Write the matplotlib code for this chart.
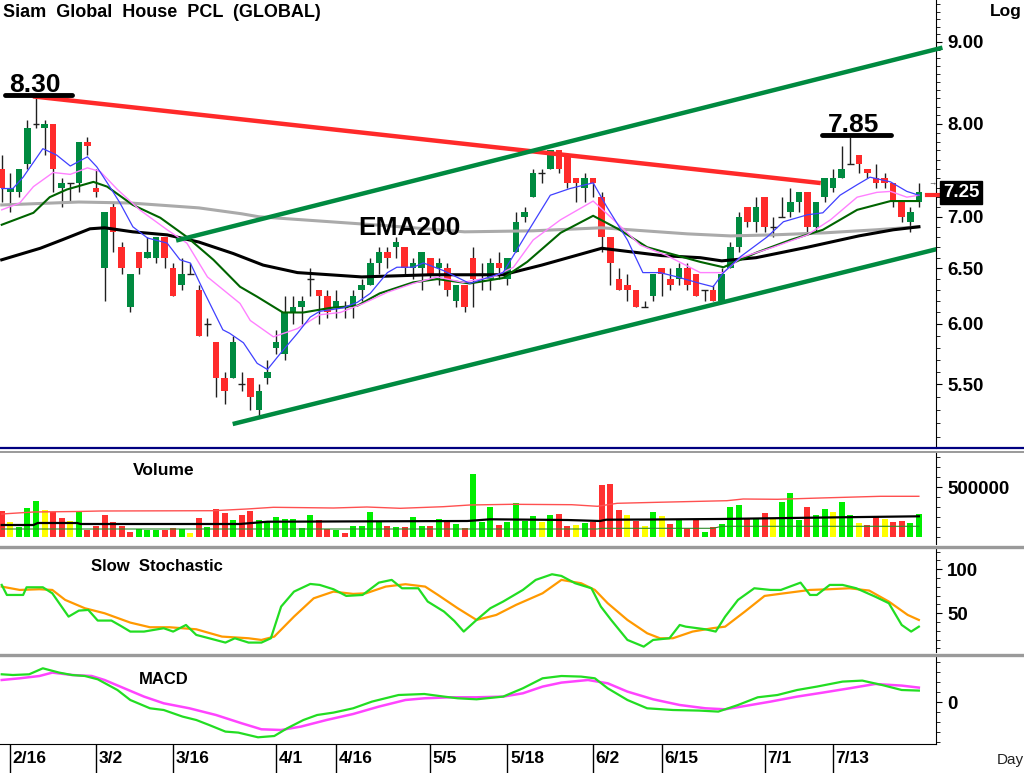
import numpy as np
import matplotlib
matplotlib.use('Agg')
import matplotlib.pyplot as plt
import matplotlib.transforms as mtransforms
from matplotlib.lines import Line2D
from matplotlib.ticker import FixedLocator, NullFormatter, NullLocator

plt.rcParams['font.family'] = ['Liberation Sans', 'DejaVu Sans']

# daily candles (THB)
opens = [7.50, 7.25, 7.25, 7.55, 8.00, 7.95, 8.00, 7.30, 7.35, 7.35, 7.80, 7.30, 6.50, 7.10, 6.70, 6.15, 6.65, 6.60, 6.60, 6.80,
         6.50, 6.35, 6.45, 6.30, 6.00, 5.85, 5.55, 5.55, 5.50, 5.55, 5.30, 5.55, 5.80, 5.75, 6.10, 6.15, 6.40, 6.30, 6.25, 6.15,
         6.15, 6.15, 6.30, 6.35, 6.55, 6.65, 6.70, 6.70, 6.50, 6.50, 6.60, 6.50, 6.50, 6.20, 6.35, 6.60, 6.45, 6.40, 6.55, 6.40,
         6.65, 7.00, 7.20, 7.45, 7.50, 7.70, 7.65, 7.40, 7.30, 7.40, 7.20, 6.80, 6.40, 6.35, 6.30, 6.15, 6.25, 6.50, 6.40, 6.40,
         6.50, 6.45, 6.30, 6.30, 6.20, 6.50, 6.70, 7.10, 6.95, 7.20, 6.90, 7.00, 7.05, 7.15, 7.25, 6.90, 7.20, 7.30, 7.40, 7.55,
         7.65, 7.50, 7.40, 7.40, 7.35, 7.15, 6.95, 7.15]
highs = [7.65, 7.45, 7.50, 8.05, 8.30, 8.05, 8.00, 7.40, 7.35, 7.80, 7.85, 7.50, 7.05, 7.15, 6.75, 6.45, 6.65, 6.80, 6.80, 6.80,
         6.55, 6.60, 6.55, 6.35, 6.05, 5.85, 5.60, 5.90, 5.60, 5.55, 5.50, 5.70, 5.95, 6.25, 6.25, 6.25, 6.50, 6.30, 6.30, 6.30,
         6.20, 6.30, 6.40, 6.60, 6.70, 6.70, 6.80, 6.70, 6.60, 6.65, 6.60, 6.60, 6.55, 6.35, 6.35, 6.70, 6.55, 6.60, 6.65, 6.60,
         7.05, 7.10, 7.50, 7.50, 7.70, 7.70, 7.65, 7.40, 7.45, 7.40, 7.25, 6.80, 6.50, 6.45, 6.30, 6.20, 6.45, 6.50, 6.50, 6.55,
         6.55, 6.45, 6.30, 6.35, 6.50, 6.75, 7.05, 7.10, 7.20, 7.20, 7.00, 7.20, 7.30, 7.25, 7.25, 7.15, 7.40, 7.50, 7.75, 7.85,
         7.65, 7.50, 7.55, 7.45, 7.35, 7.15, 7.10, 7.35]
lows = [7.15, 7.05, 7.20, 7.50, 7.95, 7.65, 7.25, 7.10, 7.15, 7.25, 7.65, 7.20, 6.20, 6.65, 6.45, 6.10, 6.45, 6.60, 6.55, 6.50,
        6.25, 6.30, 6.45, 5.90, 5.90, 5.40, 5.35, 5.55, 5.45, 5.30, 5.25, 5.50, 5.75, 5.70, 6.00, 6.00, 6.25, 6.00, 6.05, 6.05,
        6.05, 6.05, 6.20, 6.35, 6.45, 6.50, 6.60, 6.45, 6.40, 6.30, 6.40, 6.35, 6.25, 6.15, 6.10, 6.15, 6.30, 6.30, 6.40, 6.35,
        6.65, 6.95, 7.20, 7.35, 7.50, 7.45, 7.30, 7.15, 7.15, 7.20, 6.65, 6.35, 6.30, 6.20, 6.15, 6.15, 6.20, 6.25, 6.30, 6.35,
        6.30, 6.25, 6.20, 6.20, 6.20, 6.50, 6.65, 6.90, 6.85, 6.85, 6.80, 7.00, 7.00, 7.05, 6.85, 6.85, 7.15, 7.25, 7.40, 7.55,
        7.45, 7.40, 7.30, 7.30, 7.10, 6.95, 6.85, 7.10]
closes = [7.30, 7.30, 7.50, 7.95, 8.00, 8.00, 7.50, 7.35, 7.35, 7.80, 7.75, 7.25, 7.05, 6.85, 6.50, 6.45, 6.50, 6.65, 6.80, 6.60,
          6.25, 6.45, 6.45, 5.90, 6.00, 5.55, 5.45, 5.85, 5.50, 5.40, 5.45, 5.60, 5.85, 6.10, 6.15, 6.20, 6.40, 6.25, 6.10, 6.20,
          6.15, 6.25, 6.35, 6.55, 6.65, 6.60, 6.75, 6.50, 6.55, 6.65, 6.45, 6.55, 6.30, 6.35, 6.15, 6.40, 6.45, 6.55, 6.50, 6.60,
          6.95, 7.05, 7.45, 7.45, 7.70, 7.50, 7.35, 7.35, 7.40, 7.35, 6.80, 6.55, 6.30, 6.30, 6.15, 6.15, 6.45, 6.45, 6.35, 6.50,
          6.35, 6.25, 6.30, 6.20, 6.45, 6.70, 7.00, 6.95, 7.10, 6.90, 6.90, 7.00, 7.15, 7.25, 6.90, 7.15, 7.40, 7.40, 7.50, 7.55,
          7.55, 7.45, 7.35, 7.35, 7.15, 7.00, 7.05, 7.25]
prev_close = 7.35
volumes = [257000, 147000, 97000, 290000, 363000, 270000, 253000, 190000, 163000, 247000, 70000, 113000, 220000, 147000,
           107000, 47000, 80000, 70000, 70000, 73000, 90000, 80000, 37000, 187000, 103000, 280000, 237000, 173000, 223000,
           263000, 173000, 163000, 203000, 180000, 180000, 87000, 220000, 173000, 80000, 70000, 37000, 107000, 107000, 247000,
           147000, 107000, 97000, 97000, 203000, 107000, 113000, 180000, 147000, 130000, 87000, 630000, 147000, 303000, 120000,
           150000, 340000, 163000, 207000, 147000, 220000, 227000, 107000, 123000, 143000, 153000, 520000, 530000, 270000,
           220000, 163000, 113000, 253000, 207000, 130000, 170000, 87000, 173000, 47000, 97000, 130000, 297000, 320000, 180000,
           180000, 237000, 180000, 347000, 440000, 173000, 303000, 220000, 280000, 247000, 347000, 223000, 140000, 120000,
           207000, 180000, 153000, 163000, 140000, 230000]

# moving averages (bar index, price)
fast_x = [0, 1.3, 2.5, 4.8, 6.4, 8, 10, 11.1, 12.6, 13.8, 15.3, 17, 19.3, 20.8, 22, 23.5, 25.8, 26.6, 28.2, 29.8,
          31, 32.5, 34.5, 36, 37.1, 39.8, 41.5, 43, 45, 46.1, 48, 49.2, 51.5, 54.6, 55.8, 58.5, 61.3, 64, 66.3, 69,
          70.6, 73, 74.8, 76.8, 78.8, 81.5, 83, 84.2, 86.2, 89.3, 91.2, 94, 95.8, 97.8, 99.8, 101.3, 103.7, 105.6, 107]
fast_y = [7.29, 7.29, 7.41, 7.72, 7.65, 7.53, 7.63, 7.52, 7.31, 7.14, 6.90, 6.79, 6.74, 6.58, 6.55, 6.30, 5.95, 5.92, 5.84, 5.67,
          5.62, 5.75, 5.92, 6.06, 6.11, 6.14, 6.19, 6.27, 6.46, 6.51, 6.51, 6.55, 6.48, 6.36, 6.39, 6.46, 6.84, 7.22, 7.29, 7.35,
          7.10, 6.77, 6.46, 6.46, 6.42, 6.36, 6.33, 6.46, 6.61, 6.80, 6.95, 7.02, 7.04, 7.22, 7.33, 7.41, 7.36, 7.26, 7.22]
mid_x = [0, 2.1, 3.7, 6, 8, 10, 11.5, 13.5, 16.1, 19.3, 21.6, 24, 27.8, 29, 31.7, 34.5, 37.1, 39.5, 42.2, 45, 48,
         50.8, 53.8, 57.3, 59.7, 62, 65.2, 69, 71, 74.5, 77.6, 81.5, 84.2, 86.2, 90, 94, 96.7, 99.8, 102.1, 103.7, 105.6, 107]
mid_y = [7.07, 7.14, 7.31, 7.46, 7.44, 7.51, 7.47, 7.28, 7.07, 6.87, 6.74, 6.42, 6.18, 6.03, 5.89, 5.96, 6.08, 6.10, 6.18, 6.28,
         6.36, 6.42, 6.37, 6.42, 6.51, 6.77, 6.97, 7.16, 7.00, 6.72, 6.62, 6.46, 6.46, 6.60, 6.70, 6.82, 6.97, 7.20, 7.25, 7.26,
         7.20, 7.22]
slow_x = [0, 3.7, 5.6, 7.6, 10.7, 12.3, 15.3, 18.5, 21.6, 24.7, 27.8, 29.8, 32.8, 35.2, 38.3, 41.5, 44.1, 48, 50.8,
          54.6, 58.5, 61.3, 65.2, 69, 72.1, 75.3, 81.5, 84.2, 88.1, 92, 95.8, 99.8, 103.7, 107]
slow_y = [6.92, 7.04, 7.20, 7.28, 7.36, 7.31, 7.12, 6.99, 6.80, 6.58, 6.33, 6.24, 6.10, 6.10, 6.14, 6.16, 6.27, 6.37, 6.40,
          6.36, 6.41, 6.56, 6.84, 7.01, 6.87, 6.70, 6.56, 6.51, 6.65, 6.77, 6.87, 7.07, 7.16, 7.16]
ema75_x = [0, 4.5, 7, 10.3, 12, 15.3, 19.3, 23, 27, 30.5, 34.5, 42, 46, 50, 54, 58.5, 63, 70, 74, 77, 81.5, 84, 88,
           94, 100, 104, 107]
ema75_y = [6.58, 6.69, 6.77, 6.88, 6.89, 6.85, 6.82, 6.75, 6.64, 6.53, 6.46, 6.42, 6.43, 6.44, 6.44, 6.44, 6.53, 6.69, 6.65,
           6.62, 6.60, 6.57, 6.60, 6.70, 6.81, 6.87, 6.90]
ema200_x = [0, 9, 15, 23, 28, 30, 35, 45, 54, 62, 70, 80, 85, 90, 96, 102, 107]
ema200_y = [7.12, 7.15, 7.14, 7.09, 7.03, 7.00, 6.97, 6.91, 6.85, 6.86, 6.89, 6.83, 6.81, 6.82, 6.84, 6.87, 6.90]

# trend lines
resist_x, resist_y = [3.9, 95.3], [8.32, 7.35]
resist_last = 7.22
chan_up_x, chan_up_y = [20.6, 109.5], [6.77, 8.92]
chan_lo_x, chan_lo_y = [27.2, 109.0], [5.20, 6.68]

# volume averages
vavg_hi_x = [0, 3.7, 8.8, 11.5, 24.7, 28.6, 31.7, 38.7, 42.6, 46.5, 51.5, 54.6, 59.5, 66.5, 69.5, 71.8, 76.5, 84.6,
             86.5, 90.5, 95.5, 102.5, 107]
vavg_hi_y = [230000, 250000, 255000, 260000, 263000, 280000, 297000, 290000, 300000, 287000, 303000, 320000, 327000,
             323000, 307000, 337000, 347000, 363000, 380000, 377000, 390000, 407000, 407000]
vavg_x = [0, 3.7, 4.2, 8.8, 9.2, 27.8, 31, 54.3, 57, 66, 69.8, 70.5, 76, 83.8, 92, 97.8, 107]
vavg_y = [120000, 120000, 140000, 140000, 130000, 130000, 153000, 160000, 177000, 170000, 160000, 173000, 175000,
          180000, 190000, 197000, 207000]
vavg_lo_x = [0, 69.5, 70, 83, 84, 107]
vavg_lo_y = [80000, 80000, 87000, 87000, 107000, 107000]

# slow stochastic
stk_x = [0, 0.6, 2.5, 2.9, 4.8, 5.9, 7.8, 9.0, 10.1, 11.2, 12.8, 13.9, 15.0, 16.6, 18.9, 20.0, 21.5, 22.7, 24.2, 26.1,
         27.2, 28.8, 30.3, 31.4, 32.6, 34.1, 36.0, 37.1, 38.7, 40.2, 42.1, 44.0, 45.5, 46.7, 48.6, 49.7, 51.6, 52.8, 53.9,
         55.4, 57.0, 58.5, 60.8, 62.3, 64.2, 65.3, 66.9, 68.8, 69.9, 71.1, 73.0, 74.9, 76.0, 77.9, 79.1, 79.8, 82.1, 83.3,
         84.4, 85.9, 87.8, 89.7, 90.9, 93.2, 94.3, 95.1, 96.6, 98.1, 99.7, 101.9, 103.5, 105.0, 106.1, 107.0]
stk_y = [82.2, 70.8, 70.8, 79.5, 79.5, 72.7, 46.2, 53.0, 53.8, 41.7, 41.7, 35.6, 29.2, 29.2, 33.0, 29.2, 36.7, 25.4, 21.6,
         16.7, 21.6, 16.7, 16.7, 21.6, 57.6, 74.6, 83.3, 82.2, 77.3, 69.7, 70.8, 84.8, 87.9, 78.4, 78.4, 63.3, 51.9, 41.3,
         29.2, 42.4, 55.7, 63.3, 76.5, 87.9, 94.3, 92.4, 84.1, 78.4, 57.6, 42.4, 19.7, 12.1, 19.7, 21.6, 36.7, 34.8, 31.8,
         29.2, 46.2, 65.2, 78.4, 76.5, 76.5, 84.8, 70.8, 70.8, 82.2, 82.2, 78.4, 68.9, 61.4, 36.7, 29.2, 34.8]
std_x = [0, 2.1, 4.4, 5.9, 7.4, 9.7, 12.0, 15.0, 17.3, 19.6, 22.7, 25.7, 28.8, 30.3, 31.8, 34.1, 36.4, 38.7, 41.0, 42.5,
         44.8, 47.1, 49.4, 50.9, 53.2, 55.4, 57.7, 60.0, 63.1, 65.3, 67.6, 69.2, 70.7, 73.0, 75.3, 76.8, 78.3, 80.6, 82.9,
         84.4, 86.7, 89.0, 91.3, 94.3, 96.6, 98.9, 101.2, 103.5, 105.7, 107.0]
std_y = [80.3, 76.5, 77.3, 76.5, 65.2, 55.7, 50.0, 39.4, 34.1, 34.1, 31.8, 23.5, 21.6, 19.7, 23.5, 46.2, 67.0, 74.6, 72.0,
         72.7, 80.3, 83.0, 80.3, 70.8, 55.7, 42.4, 48.1, 59.5, 72.7, 87.9, 84.1, 76.5, 61.4, 42.4, 27.3, 21.6, 21.6, 29.2,
         33.0, 34.8, 51.9, 69.7, 72.7, 76.5, 77.3, 78.4, 75.8, 63.3, 48.1, 42.4]

# MACD
macd_x = [0, 1.3, 3.2, 4.8, 6.7, 8.2, 9.7, 11.2, 13.5, 15.0, 17.3, 18.9, 21.1, 22.7, 24.2, 26.1, 27.6, 29.9, 31.8, 33.3,
          35.2, 36.8, 38.7, 41.0, 43.2, 46.3, 49.3, 51.6, 53.2, 55.4, 58.5, 60.8, 63.1, 65.3, 67.6, 69.2, 70.7, 73.0, 75.3,
          78.3, 81.4, 83.6, 85.9, 88.2, 90.5, 92.8, 95.1, 98.1, 100.4, 102.7, 105.0, 107.0]
macd_y = [0.28, 0.273, 0.28, 0.34, 0.297, 0.273, 0.263, 0.23, 0.123, 0.023, -0.06, -0.077, -0.143, -0.177, -0.227, -0.293,
          -0.303, -0.35, -0.337, -0.26, -0.177, -0.127, -0.103, -0.06, 0.007, 0.073, 0.083, 0.057, 0.04, 0.03, 0.057, 0.14,
          0.24, 0.263, 0.257, 0.24, 0.14, 0.023, -0.06, -0.077, -0.083, -0.093, -0.027, 0.05, 0.073, 0.123, 0.157, 0.207,
          0.217, 0.173, 0.123, 0.117]
sig_x = [0, 2.1, 4.4, 5.9, 8.2, 10.5, 12.0, 14.3, 16.6, 18.9, 21.9, 25.0, 28.0, 30.3, 32.6, 34.9, 37.9, 41.0, 44.0, 47.1,
         49.3, 52.4, 55.4, 58.5, 60.8, 63.1, 65.3, 68.4, 70.7, 73.0, 76.0, 79.1, 82.1, 84.4, 86.7, 89.7, 92.8, 95.8, 98.9,
         101.9, 105.0, 107.0]
sig_y = [0.223, 0.24, 0.263, 0.297, 0.273, 0.263, 0.223, 0.14, 0.057, -0.01, -0.06, -0.127, -0.21, -0.27, -0.277, -0.243,
         -0.177, -0.117, -0.043, 0.023, 0.04, 0.05, 0.05, 0.057, 0.09, 0.157, 0.197, 0.223, 0.19, 0.107, 0.03, -0.027,
         -0.06, -0.07, -0.037, 0.007, 0.057, 0.097, 0.14, 0.183, 0.167, 0.147]

date_pos = [1, 11, 20, 32, 39, 50, 59, 69, 77, 89, 97]
date_lbl = ['2/16', '3/2', '3/16', '4/1', '4/16', '5/5', '5/18', '6/2', '6/15', '7/1', '7/13']

W, H = 1024, 773
fig = plt.figure(figsize=(W / 100, H / 100), dpi=100)
fig.patch.set_facecolor('white')


def panel(top, bottom):
    a = fig.add_axes([0, 1 - bottom / H, 936 / W, (bottom - top) / H])
    a.set_xlim(-0.2, 109.0)
    for s in ('top', 'left', 'bottom'):
        a.spines[s].set_visible(False)
    a.spines['right'].set_color('black')
    a.yaxis.tick_right()
    a.tick_params(axis='y', which='major', length=4, pad=4, labelsize=13.5)
    a.tick_params(axis='y', which='minor', length=3)
    a.xaxis.set_major_locator(NullLocator())
    return a


lab = dict(fontsize=13.5, fontweight='bold')

# ---- price panel
ax = panel(0, 448)
ax.set_yscale('log')
ax.set_ylim(5.02, 9.56)
ax.yaxis.set_major_locator(FixedLocator([5.5, 6.0, 6.5, 7.0, 8.0, 9.0]))
ax.yaxis.set_minor_locator(FixedLocator(np.arange(5.1, 9.55, 0.1)))
ax.yaxis.set_minor_formatter(NullFormatter())
ax.set_yticklabels(['5.50', '6.00', '6.50', '7.00', '8.00', '9.00'], **lab)

x = np.arange(len(closes))
o, c = np.array(opens), np.array(closes)
h, l = np.array(highs), np.array(lows)
ax.vlines(x, l, h, color='#202020', lw=1, zorder=3)
up, dn, eq = c > o, c < o, c == o
ax.bar(x[up], (c - o)[up], bottom=o[up], width=0.76, color='#008a40', zorder=4)
ax.bar(x[dn], (o - c)[dn], bottom=c[dn], width=0.76, color='#ff2b2b', zorder=4)
ax.hlines(o[eq], x[eq] - 0.4, x[eq] + 0.4, color='#202020', lw=1, zorder=4)

ax.plot(ema200_x, ema200_y, color='#aaaaaa', lw=2.2, zorder=5)
ax.plot(ema75_x, ema75_y, color='black', lw=2.2, zorder=5)
ax.plot(slow_x, slow_y, color='#006400', lw=1.5, zorder=5)
ax.plot(mid_x, mid_y, color='#ff80ff', lw=1, zorder=5)
ax.plot(fast_x, fast_y, color='#4040ff', lw=0.9, zorder=5)

ax.plot(resist_x, resist_y, color='#ff2a2a', lw=3.2, zorder=6)
ax.plot(chan_up_x, chan_up_y, color='#008a40', lw=3.2, zorder=6, clip_on=False)
ax.plot(chan_lo_x, chan_lo_y, color='#008a40', lw=3.2, zorder=6)
ax.plot([107.9, 109.3], [resist_last, resist_last], color='#ff2a2a', lw=3, zorder=6, clip_on=False)

ax.plot([0.4, 8.2], [8.34, 8.34], color='black', lw=3.5, solid_capstyle='round', zorder=7)
ax.text(0.85, 8.38, '8.30', fontsize=19, fontweight='bold', va='baseline', zorder=7)
ax.plot([95.7, 103.7], [7.874, 7.874], color='black', lw=3.5, solid_capstyle='round', zorder=7)
ax.text(96.4, 7.91, '7.85', fontsize=19, fontweight='bold', va='baseline', zorder=7)
ax.text(41.6, 6.82, 'EMA200', fontsize=19, fontweight='bold', va='baseline', zorder=7)

ax.text(109.85, closes[-1], '%.2f' % closes[-1], color='white', va='center', ha='left', clip_on=False,
        bbox=dict(boxstyle='square,pad=0.15', fc='black', ec='black'), zorder=8, **lab)
ax.text(108.6, 7.34, '→', fontsize=6, color='#404040', va='center', ha='center', clip_on=False)

# ---- volume panel
axv = panel(452, 544)
axv.set_ylim(-70000, 850000)
axv.yaxis.set_major_locator(FixedLocator([500000]))
axv.yaxis.set_minor_locator(FixedLocator(np.arange(0, 850000, 100000)))
axv.yaxis.set_minor_formatter(NullFormatter())
axv.set_yticklabels(['500000'], **lab)
prev = np.concatenate([[prev_close], c[:-1]])
vcol = np.where(c > prev, '#00ee00', np.where(c < prev, '#ff3030', '#ffff00'))
axv.bar(x, volumes, width=0.7, color=vcol, zorder=3)
axv.plot(vavg_hi_x, vavg_hi_y, color='#ff5050', lw=1, zorder=4)
axv.plot(vavg_x, vavg_y, color='black', lw=1.6, zorder=4)
axv.plot(vavg_lo_x, vavg_lo_y, color='#2a8a2a', lw=0.8, zorder=4)
axv.text(0.142, 0.8, 'Volume', transform=axv.transAxes, fontsize=12.5, fontweight='bold', va='center')

# ---- stochastic panel
axs = panel(549, 652)
axs.set_ylim(6, 123)
axs.yaxis.set_major_locator(FixedLocator([50, 100]))
axs.yaxis.set_minor_locator(FixedLocator(np.arange(10, 121, 10)))
axs.yaxis.set_minor_formatter(NullFormatter())
axs.set_yticklabels(['50', '100'], **lab)
axs.plot(std_x, std_y, color='#ff9900', lw=1.6, zorder=3)
axs.plot(stk_x, stk_y, color='#22dd22', lw=1.6, zorder=4)
axs.text(0.097, 0.83, 'Slow  Stochastic', transform=axs.transAxes, fontsize=12, fontweight='bold', va='center')

# ---- MACD panel
axm = panel(657, 744)
axm.set_ylim(-0.417, 0.453)
axm.yaxis.set_major_locator(FixedLocator([0]))
axm.yaxis.set_minor_locator(FixedLocator(np.arange(-0.4, 0.45, 0.1)))
axm.yaxis.set_minor_formatter(NullFormatter())
axm.set_yticklabels(['0'], **lab)
axm.spines['bottom'].set_visible(True)
axm.spines['bottom'].set_color('black')
axm.plot(sig_x, sig_y, color='#ff44ff', lw=1.8, zorder=3)
axm.plot(macd_x, macd_y, color='#22dd22', lw=1.6, zorder=4)
axm.text(0.148, 0.74, 'MACD', transform=axm.transAxes, fontsize=12, fontweight='bold', va='center')

axm.xaxis.set_major_locator(FixedLocator(date_pos))
axm.xaxis.set_major_formatter(NullFormatter())
axm.tick_params(axis='x', which='major', direction='out', length=21, width=1, color='black')
tr = mtransforms.blended_transform_factory(axm.transData, axm.transAxes)
for p, s in zip(date_pos, date_lbl):
    axm.text(p + 0.3, -0.165, s, transform=tr, fontsize=12.5, fontweight='bold', va='center', ha='left',
             clip_on=False)

# ---- separators and header text
def hline(ypx, color, lw):
    fig.add_artist(Line2D([0, 1], [1 - ypx / H, 1 - ypx / H], transform=fig.transFigure, color=color, lw=lw))


hline(448, '#000080', 1.6)
hline(451.5, '#9a9a9a', 1.4)
hline(546.5, '#9a9a9a', 2.4)
hline(654.5, '#9a9a9a', 2.4)

fig.text(3 / W, 1 - 17 / H, 'Siam  Global  House  PCL  (GLOBAL)', fontsize=13, fontweight='bold', va='baseline')
fig.text(990 / W, 1 - 16 / H, 'Log', fontsize=12.5, fontweight='bold', va='baseline')
fig.text(997 / W, 1 - 764 / H, 'Day', fontsize=11, va='baseline', color='#222222')

fig.savefig('out.png', dpi=100, facecolor='white')
